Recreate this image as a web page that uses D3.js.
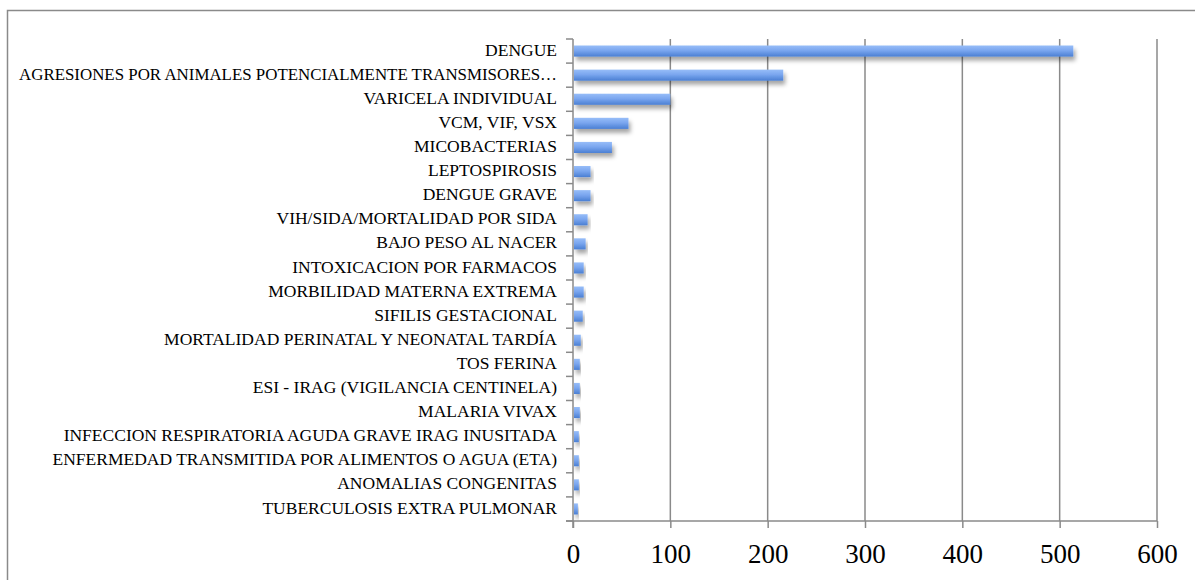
<!DOCTYPE html>
<html>
<head>
<meta charset="utf-8">
<script src="https://cdn.jsdelivr.net/npm/d3@7"></script>
<style>
	body { margin: 0; background: #fff; }
	text { font-family: "Liberation Serif", "Times New Roman", serif; fill: #000; }
</style>
</head>
<body>
<div id="chart"></div>
<script>

var categories = [
	'DENGUE',
	'AGRESIONES POR ANIMALES POTENCIALMENTE TRANSMISORES…',
	'VARICELA INDIVIDUAL',
	'VCM, VIF, VSX',
	'MICOBACTERIAS',
	'LEPTOSPIROSIS',
	'DENGUE GRAVE',
	'VIH/SIDA/MORTALIDAD POR SIDA',
	'BAJO PESO AL NACER',
	'INTOXICACION POR FARMACOS',
	'MORBILIDAD MATERNA EXTREMA',
	'SIFILIS GESTACIONAL',
	'MORTALIDAD PERINATAL Y NEONATAL TARDÍA',
	'TOS FERINA',
	'ESI - IRAG (VIGILANCIA CENTINELA)',
	'MALARIA VIVAX',
	'INFECCION RESPIRATORIA AGUDA GRAVE IRAG INUSITADA',
	'ENFERMEDAD TRANSMITIDA POR ALIMENTOS O AGUA (ETA)',
	'ANOMALIAS CONGENITAS',
	'TUBERCULOSIS EXTRA PULMONAR'
];

var values = [514, 216, 100, 57, 40, 18, 18, 15, 13, 11, 11, 10, 8, 7, 7, 7, 6, 6, 6, 5];

var xTicks = [0, 100, 200, 300, 400, 500, 600];

createChart();

function createChart() {

	var svgWidth = 1195;
	var svgHeight = 580;
	var left = 573;
	var right = 1157;
	var top = 39;
	var bottom = 521;
	var maxLabelWidth = 538;
	var gridColor = '#8a8a8a';

	var data = categories.map(function(c, i) { return {label: c, count: values[i]}; });

	var x = d3.scaleLinear().domain([0, 600]).range([left, right]);
	var y = d3.scaleBand().domain(categories).range([top, bottom]).paddingInner(0.54).paddingOuter(0.27);

	var svg = d3.select('#chart').append('svg')
		.attr('width', svgWidth)
		.attr('height', svgHeight);

	var defs = svg.append('defs');
	var grad = defs.append('linearGradient')
		.attr('id', 'barGrad')
		.attr('x1', 0).attr('y1', 0).attr('x2', 0).attr('y2', 1);
	grad.append('stop').attr('offset', '0%').attr('stop-color', '#97bdf8');
	grad.append('stop').attr('offset', '45%').attr('stop-color', '#7aa6ef');
	grad.append('stop').attr('offset', '100%').attr('stop-color', '#4a7fd3');

	var shadow = defs.append('filter')
		.attr('id', 'shadow')
		.attr('x', '-20%').attr('y', '-50%').attr('width', '140%').attr('height', '250%');
	shadow.append('feDropShadow')
		.attr('dx', 2).attr('dy', 4)
		.attr('stdDeviation', 2.2)
		.attr('flood-color', '#000')
		.attr('flood-opacity', 0.35);

	// outer frame (runs off the right and bottom edges)
	svg.append('rect')
		.attr('x', 7.5).attr('y', 10.5)
		.attr('width', svgWidth).attr('height', svgHeight)
		.style('fill', 'none')
		.style('stroke', gridColor)
		.style('stroke-width', 1.5);

	// vertical gridlines
	svg.selectAll('.grid')
		.data(xTicks.slice(1))
		.enter()
		.append('line')
		.attr('class', 'grid')
		.attr('x1', function(d) { return x(d); })
		.attr('x2', function(d) { return x(d); })
		.attr('y1', top)
		.attr('y2', bottom)
		.style('stroke', gridColor)
		.style('stroke-width', 1.5);

	// bars
	svg.selectAll('.bar')
		.data(data)
		.enter()
		.append('rect')
		.attr('class', 'bar')
		.attr('x', x(0) + 1)
		.attr('y', function(d) { return y(d.label); })
		.attr('width', function(d) { return x(d.count) - x(0) - 1; })
		.attr('height', y.bandwidth())
		.style('fill', 'url(#barGrad)')
		.attr('filter', 'url(#shadow)');

	// x axis
	var xAxis = svg.append('g')
		.attr('transform', 'translate(0,' + bottom + ')')
		.call(d3.axisBottom(x).tickValues(xTicks).tickSize(7).tickPadding(14));
	xAxis.select('.domain').remove();
	xAxis.append('line')
		.attr('x1', left - 7).attr('x2', right)
		.style('stroke', gridColor).style('stroke-width', 1.5);
	xAxis.selectAll('.tick line').style('stroke', gridColor).style('stroke-width', 1.5);
	xAxis.selectAll('.tick text')
		.style('font-family', '"Liberation Serif", serif')
		.style('font-size', '27px')
		.attr('dy', '0.78em');

	// y axis: ticks sit on category boundaries
	var step = y.step();
	var bounds = d3.range(categories.length + 1).map(function(i) { return top + i * step; });
	svg.selectAll('.ytick')
		.data(bounds)
		.enter()
		.append('line')
		.attr('class', 'ytick')
		.attr('x1', left - 7).attr('x2', left)
		.attr('y1', function(d) { return d; })
		.attr('y2', function(d) { return d; })
		.style('stroke', gridColor)
		.style('stroke-width', 1.5);

	svg.append('line')
		.attr('x1', left).attr('x2', left)
		.attr('y1', top).attr('y2', bottom + 7)
		.style('stroke', gridColor)
		.style('stroke-width', 1.5);

	svg.selectAll('.label')
		.data(data)
		.enter()
		.append('text')
		.attr('class', 'label')
		.attr('x', left - 16)
		.attr('y', function(d) { return y(d.label) + y.bandwidth() / 2; })
		.attr('dy', '0.26em')
		.style('text-anchor', 'end')
		.style('font-size', '17.5px')
		.text(function(d) { return d.label; })
		.each(function() {
			// squeeze labels that would run off the frame
			if (this.getComputedTextLength() > maxLabelWidth) {
				d3.select(this)
					.attr('textLength', maxLabelWidth)
					.attr('lengthAdjust', 'spacingAndGlyphs');
			}
		});
};

</script>
</body>
</html>
